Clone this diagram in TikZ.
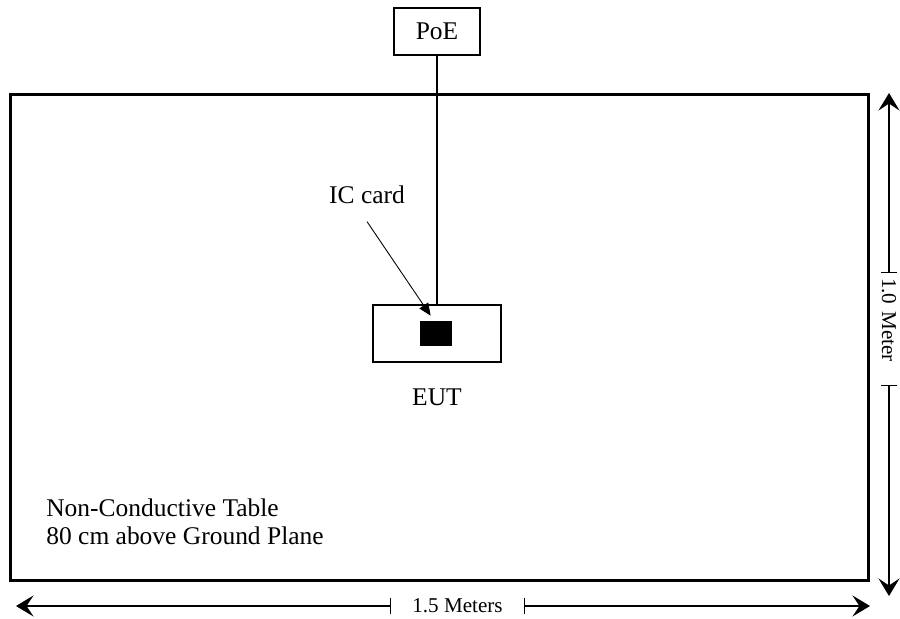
\documentclass[tikz,border=0pt]{standalone}
\usepackage{fontspec}
\setmainfont{Liberation Serif}
\usepackage{tikz}
\usetikzlibrary{arrows.meta, calc}

\begin{document}
\begin{tikzpicture}[
  x=0.02cm, y=-0.02cm,
  tbl/.style={draw, line width=1.7pt, minimum width=17.18cm, minimum height=9.74cm, inner sep=0pt},
  box/.style={draw, line width=0.8pt, inner sep=0pt},
  lbl/.style={font=\fontsize{14.5}{16.4}\selectfont, inner sep=0pt},
  dimlbl/.style={font=\fontsize{12}{14}\selectfont, inner sep=0pt, minimum height=0.32cm},
  dim/.style={line width=0.7pt, -{Stealth[length=10pt, width=12pt, inset=4pt]}},
  tick/.style={line width=0.7pt},
  wire/.style={line width=1pt},
  lead/.style={line width=0.5pt, -{Triangle[length=7pt, width=6pt]}},
]

\useasboundingbox (0,0) rectangle (900,619);

% table and equipment
\node[tbl] (table) at (439.5,337.5) {};
\node[box, minimum width=1.72cm, minimum height=0.94cm, font=\fontsize{14.5}{16}\selectfont] (poe) at (437,31.5) {PoE};
\node[box, minimum width=2.56cm, minimum height=1.14cm] (eut) at (437,333.5) {};
\node[fill=black, inner sep=0pt, minimum width=0.64cm, minimum height=0.5cm] (card) at (436,333.5) {};

\draw[wire] (poe.south) -- (eut.north);

\node[lbl, anchor=base] (iclbl) at (367,203) {IC card};
\draw[lead] ([yshift=-0.36cm]iclbl.south) -- ([xshift=0.22cm,yshift=0.1cm]card.north west);

\node[lbl, anchor=base] (eutlbl) at (437,405) {EUT};

\node[lbl, anchor=north west, align=left] (note) at (46,498) {Non-Conductive Table\\80 cm above Ground Plane};

% dimensions
\coordinate (bl) at (16,606);
\coordinate (br) at (870,606);
\node[dimlbl, minimum width=2.66cm] (m15) at (457.5,606) {1.5 Meters};
\draw[dim] (m15.west) -- (bl);
\draw[dim] (m15.east) -- (br);
\draw[tick] (m15.north west) -- (m15.south west);
\draw[tick] (m15.north east) -- (m15.south east);

\coordinate (rt) at (889,93);
\coordinate (rb) at (889,596);
\node[dimlbl, rotate=-90, text width=2.04cm, inner xsep=0.1cm, align=left] (m10) at (889,329) {1.0 Meter};
\draw[dim] (m10.west) -- (rt);
\draw[dim] (m10.east) -- (rb);
\draw[tick] (m10.north west) -- (m10.south west);
\draw[tick] (m10.north east) -- (m10.south east);

\end{tikzpicture}
\end{document}
